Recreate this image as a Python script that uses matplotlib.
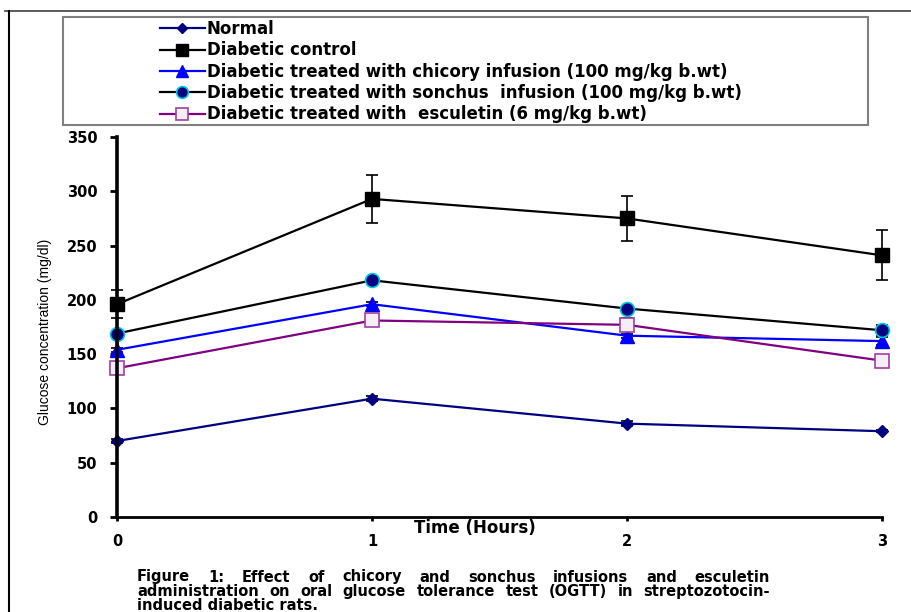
import matplotlib
matplotlib.use('Agg')
import matplotlib.pyplot as plt
from matplotlib.lines import Line2D
from matplotlib.patches import Rectangle

# --- data ---
time = [0, 1, 2, 3]
normal = [70, 109, 86, 79]
normal_err = [2, 2, 2, 1]
control = [196, 293, 275, 241]
control_err = [13, 22, 21, 23]
chicory = [154, 196, 167, 162]
chicory_err = [2, 2, 2, 4]
sonchus = [169, 218, 192, 172]
sonchus_err = [2, 2, 2, 5]
esculetin = [137, 181, 177, 144]
esculetin_err = [3, 2, 6, 4]

labels = ['Normal',
          'Diabetic control',
          'Diabetic treated with chicory infusion (100 mg/kg b.wt)',
          'Diabetic treated with sonchus  infusion (100 mg/kg b.wt)',
          'Diabetic treated with  esculetin (6 mg/kg b.wt)']
yticks = [0, 50, 100, 150, 200, 250, 300, 350]
caption = ['Figure 1: Effect of chicory and sonchus infusions and esculetin',
           'administration on oral glucose tolerance test (OGTT) in streptozotocin-',
           'induced diabetic rats.']

W, H = 912, 612
fig = plt.figure(figsize=(W / 100, H / 100), dpi=100)
renderer = fig.canvas.get_renderer()


def fx(x):
    return x / W


def fy(y):
    return 1 - y / H


ax = fig.add_axes([fx(117), fy(517), fx(882) - fx(117), fy(137) - fy(517)])

styles = [
    dict(color='#000080', marker='D', ms=6.5, mfc='#000080', mec='#000080'),
    dict(color='black', marker='s', ms=10, mfc='black', mec='black'),
    dict(color='#0000ff', marker='^', ms=10, mfc='#0000ff', mec='#0000ff'),
    dict(color='black', marker='o', ms=10, mfc='#000080', mec='#00c8e0', mew=1.2),
    dict(color='#800080', marker='s', ms=10, mfc='#f6eef6', mec='#a040a0', mew=1.2),
]
series = [(normal, normal_err), (control, control_err), (chicory, chicory_err),
          (sonchus, sonchus_err), (esculetin, esculetin_err)]

handles = []
for (vals, errs), st, lab in zip(series, styles, labels):
    ax.errorbar(time, vals, yerr=errs, ecolor='black', elinewidth=1.2, capsize=4,
                capthick=1.2, lw=1.6, clip_on=False, **st)
    hst = dict(st)
    hst['ms'] = st['ms'] * 0.85
    handles.append(Line2D([], [], lw=1.6, **hst))

ax.set_xlim(0, 3)
ax.set_ylim(0, 350)
ax.set_xticks(time)
ax.set_yticks(yticks)
for s in ['top', 'right']:
    ax.spines[s].set_visible(False)
ax.spines['left'].set_linewidth(2.6)
ax.spines['bottom'].set_linewidth(2.0)
ax.tick_params(axis='y', direction='out', length=5, width=2, pad=9)
ax.tick_params(axis='x', direction='out', length=3, width=2, pad=9)
for t in ax.get_xticklabels() + ax.get_yticklabels():
    t.set_fontfamily('DejaVu Sans')
    t.set_fontweight('bold')
    t.set_fontsize(10.5)

fig.text(fx(45), fy(332), 'Glucose concentration (mg/dl)', rotation=90,
         ha='center', va='center', fontsize=10,
         family=['Liberation Sans Narrow', 'Liberation Sans', 'DejaVu Sans'])
fig.text(fx(475), fy(528), 'Time (Hours)', ha='center', va='center',
         fontsize=12, fontweight='bold', family='DejaVu Sans')

# outer frame and legend box
fig.add_artist(Line2D([fx(5), fx(912)], [fy(11), fy(11)], color='#404040', lw=1.2))
fig.add_artist(Line2D([fx(9), fx(9)], [fy(11), fy(612)], color='black', lw=1.5))
fig.add_artist(Rectangle((fx(63), fy(125)), fx(868) - fx(63), fy(17) - fy(125),
                         fill=False, edgecolor='#808080', lw=1.5))

fig.legend(handles=handles, labels=labels, loc='upper left',
           bbox_to_anchor=(fx(160), fy(20)), frameon=False,
           prop=dict(family='DejaVu Sans', weight='bold', size=12),
           handlelength=2.7, handletextpad=0.1, labelspacing=0.2,
           borderaxespad=0, borderpad=0)

# justified caption, font size fitted so the widest line fills the column
left, right = 137, 770
cap_font = dict(fontweight='bold', family='DejaVu Sans')
probe = fig.text(0, 0, caption[1], fontsize=10, **cap_font)
cap_size = min(10.5, 10 * (right - left) / probe.get_window_extent(renderer).width)
probe.remove()
for i, line in enumerate(caption):
    y = fy(577 + i * 14.5)
    words = line.split()
    if i == len(caption) - 1:
        fig.text(fx(left), y, line, va='center', ha='left', fontsize=cap_size, **cap_font)
        continue
    txts = [fig.text(0, y, w, va='center', ha='left', fontsize=cap_size, **cap_font)
            for w in words]
    widths = [t.get_window_extent(renderer).width for t in txts]
    gap = (right - left - sum(widths)) / (len(words) - 1)
    x = left
    for t, w in zip(txts, widths):
        t.set_x(fx(x))
        x += w + gap

fig.savefig('out.png', dpi=100)
